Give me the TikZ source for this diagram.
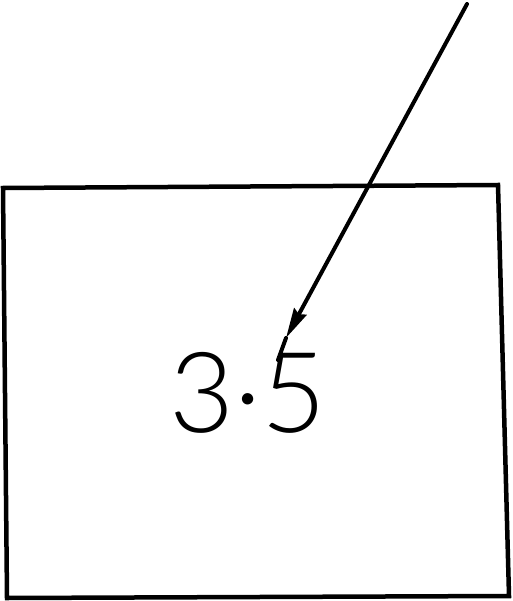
\documentclass[tikz,border=0pt]{standalone}
\usepackage{fontspec}
\newfontfamily\handfont{Lato Light}
\usetikzlibrary{arrows.meta}
\tikzset{
  boxline/.style={line width=4.5pt, line join=miter},
  arrowline/.style={line width=4pt, line cap=round},
  numtext/.style={font=\handfont\fontsize{112}{112}\selectfont, inner sep=0pt, anchor=base}
}
\begin{document}
\begin{tikzpicture}[x=1pt,y=-1pt]
\useasboundingbox (0,0) rectangle (512,601);
\coordinate (tl) at (3,188);
\coordinate (tr) at (498,185);
\coordinate (br) at (509,596);
\coordinate (bl) at (7,598);
\draw[boxline] (tl) -- (tr) -- (br) -- (bl) -- cycle;
\node[numtext] (num) at (248,432) {3·5};
\coordinate (start) at (467,4);
\coordinate (tip) at (286,338);
\coordinate (end) at (278,360);
\draw[arrowline, -{Stealth[length=30pt,width=14pt,inset=3pt]}] (start) -- (tip);
\draw[arrowline] (tip) -- (end);
\end{tikzpicture}
\end{document}
